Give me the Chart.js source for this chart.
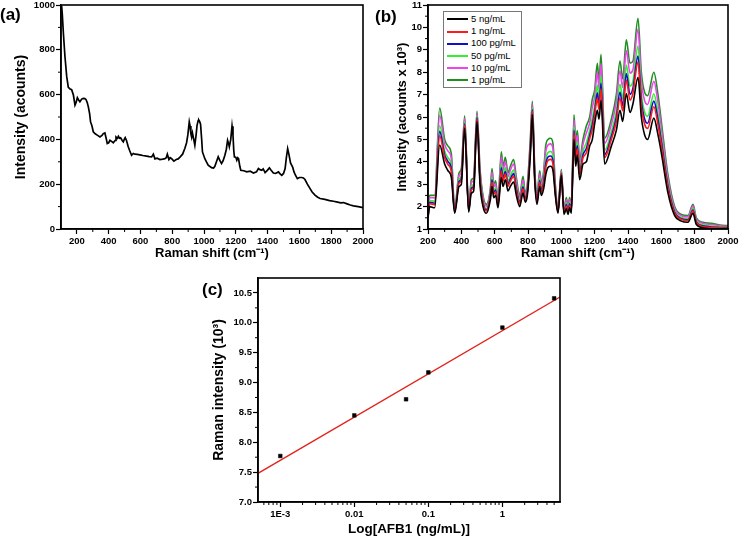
<!DOCTYPE html>
<html><head><meta charset="utf-8">
<script src="https://cdn.jsdelivr.net/npm/chart.js@4.4.1/dist/chart.umd.min.js"></script>
<style>
html,body{margin:0;padding:0;background:#fff;width:740px;height:536px;overflow:hidden;position:relative;font-family:"Liberation Sans",Arial,sans-serif}
canvas{position:absolute}
.plabel{position:absolute;font-weight:bold;font-size:17px;line-height:17px;color:#000}
#legendB{position:absolute;left:443px;top:11px;border:1px solid #777;background:#fff;padding:1px 5px 1px 3px;font-size:9.5px;color:#000}
.lrow{height:12.2px;line-height:12.2px;white-space:nowrap}
.lline{display:inline-block;width:21px;height:2px;vertical-align:middle;margin-right:3px}
</style></head><body>
<canvas id="ca" width="385" height="280" style="left:0;top:-10px"></canvas>
<canvas id="cb" width="380" height="280" style="left:370px;top:-10px"></canvas>
<canvas id="cc" width="400" height="272" style="left:180px;top:270px"></canvas>
<div class="plabel" style="left:0px;top:6px">(a)</div>
<div class="plabel" style="left:375px;top:8px">(b)</div>
<div class="plabel" style="left:202px;top:281px">(c)</div>
<div id="legendB"></div>
<script>
// ---------- Panel (a) data ----------
const shiftA = [104,108,115,125,136,146,157,167,178,188,195,203,212,219,230,240,250,257,265,272,280,286,295,303,315,328,345,358,366,376,384,391,400,408,420,429,440,446,455,461,468,475,485,492,498,504,512,523,533,544,555,565,580,596,615,638,655,670,681,691,705,722,740,754,762,769,779,787,796,810,825,837,850,865,879,890,898,907,912,917,922,927,935,942,950,956,963,967,972,978,985,990,1005,1015,1026,1047,1060,1068,1078,1089,1100,1110,1120,1131,1140,1148,1155,1159,1168,1176,1182,1187,1191,1200,1206,1212,1217,1225,1231,1250,1269,1290,1311,1330,1342,1352,1363,1372,1384,1398,1411,1422,1436,1450,1468,1480,1489,1500,1510,1518,1526,1532,1537,1544,1551,1558,1566,1575,1587,1600,1614,1625,1635,1650,1667,1680,1698,1715,1730,1760,1790,1814,1840,1860,1877,1900,1920,1940,1970,2000];
const countsA = [995,960,874,769,680,632,625,622,598,553,565,586,575,568,580,583,582,578,565,545,515,478,460,434,425,419,411,418,426,429,405,382,385,396,390,385,395,411,405,414,405,407,395,389,400,408,395,367,348,329,337,334,333,331,328,325,323,322,334,313,316,310,312,314,318,334,310,318,314,303,310,313,322,334,359,385,420,478,460,426,410,429,400,374,420,463,484,486,480,468,400,344,314,300,285,274,272,280,300,322,305,292,305,329,355,396,380,367,400,459,420,350,322,320,307,318,314,280,262,260,255,258,250,255,270,265,262,268,252,262,273,262,250,248,255,245,240,248,270,320,359,340,322,295,285,275,255,240,225,230,230,228,221,200,180,165,151,142,136,132,127,124,120,117,118,112,107,103,100,95];
const xTicksA = [200,400,600,800,1000,1200,1400,1600,1800,2000];
const yTicksA = [0,200,400,600,800,1000];

// ---------- Panel (b) data ----------
const shiftB = [200,210,240,270,300,320,340,360,386,400,420,444,460,474,494,512,530,550,574,584,594,606,620,640,650,664,680,694,714,730,750,770,784,796,814,826,840,854,870,880,894,906,920,936,950,964,980,1000,1016,1030,1040,1050,1060,1076,1086,1096,1110,1130,1150,1170,1186,1200,1216,1226,1238,1260,1300,1330,1352,1368,1390,1412,1430,1460,1480,1500,1518,1555,1580,1600,1640,1680,1720,1760,1790,1810,1850,1900,1950,2000];
const s5ng = [1.5,2.0,1.95,4.75,3.9,3.6,3.3,1.7,2.9,3.0,5.5,1.75,2.6,2.7,5.8,3.0,2.0,1.7,2.3,2.9,2.4,2.5,1.95,3.3,2.9,3.2,2.7,2.9,3.1,2.5,2.0,2.6,2.2,2.5,4.3,6.1,3.2,2.1,2.9,2.5,2.8,3.4,3.75,3.8,3.6,2.5,1.7,3.4,1.65,1.9,1.65,1.95,1.7,5.0,3.8,4.3,3.2,3.9,4.0,4.7,5.0,5.7,6.3,5.9,6.75,3.9,4.7,5.4,6.3,5.8,7.05,6.2,6.6,7.77,6.0,5.2,5.0,5.95,5.2,4.4,2.6,1.6,1.35,1.3,1.7,1.2,1.05,1.0,1.0,1.0];
const s1ng = [1.53,2.13,2.09,5.16,4.18,3.88,3.56,1.75,3.05,3.18,5.64,1.8,2.75,2.85,5.91,3.18,2.13,1.8,2.43,3.1,2.55,2.66,2.04,3.59,3.13,3.45,2.9,3.13,3.35,2.7,2.13,2.79,2.3,2.63,4.48,6.25,3.35,2.2,3.08,2.65,3.0,3.73,4.06,4.11,3.9,2.63,1.75,3.46,1.71,2.03,1.74,2.06,1.78,5.28,4.08,4.58,3.43,4.18,4.4,5.03,5.45,6.08,6.83,6.33,7.26,4.19,5.0,5.8,6.85,6.28,7.65,6.75,7.08,8.45,6.5,5.68,5.49,6.46,5.65,4.75,2.8,1.7,1.43,1.38,1.8,1.28,1.11,1.06,1.05,1.04];
const s100pg = [1.54,2.19,2.15,5.36,4.31,4.01,3.69,1.77,3.12,3.26,5.7,1.82,2.82,2.92,5.97,3.26,2.19,1.85,2.49,3.2,2.62,2.74,2.08,3.73,3.23,3.57,3.0,3.23,3.47,2.8,2.19,2.88,2.35,2.69,4.56,6.32,3.42,2.25,3.16,2.72,3.1,3.88,4.21,4.26,4.04,2.69,1.77,3.49,1.74,2.09,1.78,2.12,1.81,5.41,4.21,4.71,3.53,4.31,4.59,5.18,5.67,6.26,7.08,6.53,7.51,4.33,5.14,5.99,7.11,6.5,7.94,7.01,7.3,8.72,6.74,5.9,5.72,6.71,5.87,4.92,2.9,1.75,1.46,1.41,1.85,1.31,1.14,1.09,1.07,1.06];
const s50pg = [1.55,2.27,2.24,5.62,4.48,4.18,3.86,1.81,3.22,3.37,5.79,1.86,2.92,3.02,6.04,3.37,2.27,1.91,2.57,3.32,2.72,2.84,2.14,3.91,3.38,3.73,3.12,3.38,3.63,2.92,2.27,3.0,2.41,2.77,4.67,6.42,3.52,2.31,3.27,2.82,3.22,4.09,4.41,4.46,4.24,2.77,1.81,3.53,1.78,2.17,1.84,2.19,1.86,5.58,4.38,4.88,3.68,4.48,4.85,5.39,5.95,6.5,7.41,6.8,7.84,4.51,5.34,6.25,7.47,6.81,8.32,7.37,7.61,9.17,7.06,6.21,6.03,7.04,6.15,5.14,3.02,1.81,1.51,1.46,1.91,1.36,1.18,1.13,1.1,1.08];
const s10pg = [1.58,2.4,2.39,6.07,4.78,4.48,4.14,1.86,3.38,3.56,5.94,1.91,3.08,3.18,6.16,3.56,2.4,2.02,2.7,3.54,2.88,3.02,2.23,4.22,3.62,4.0,3.34,3.62,3.9,3.14,2.4,3.2,2.52,2.9,4.86,6.58,3.68,2.42,3.46,2.98,3.44,4.44,4.75,4.8,4.56,2.9,1.86,3.6,1.85,2.3,1.93,2.31,1.94,5.88,4.68,5.18,3.92,4.78,5.28,5.74,6.44,6.9,7.98,7.26,8.39,4.82,5.66,6.68,8.06,7.32,8.97,7.96,8.12,9.92,7.6,6.72,6.56,7.59,6.64,5.52,3.24,1.92,1.59,1.54,2.02,1.44,1.25,1.2,1.14,1.12];
const s1pg = [1.6,2.5,2.5,6.4,5.0,4.7,4.35,1.9,3.5,3.7,6.05,1.95,3.2,3.3,6.25,3.7,2.5,2.1,2.8,3.7,3.0,3.15,2.3,4.45,3.8,4.2,3.5,3.8,4.1,3.3,2.5,3.35,2.6,3.0,5.0,6.7,3.8,2.5,3.6,3.1,3.6,4.7,5.0,5.05,4.8,3.0,1.9,3.65,1.9,2.4,2.0,2.4,2.0,6.1,4.9,5.4,4.1,5.0,5.6,6.0,6.8,7.2,8.4,7.6,8.8,5.05,5.9,7.0,8.5,7.7,9.45,8.4,8.5,10.41,8.0,7.1,6.95,8.0,7.0,5.8,3.4,2.0,1.65,1.6,2.1,1.5,1.3,1.25,1.18,1.15];
const seriesNamesB = ['5 ng/mL','1 ng/mL','100 pg/mL','50 pg/mL','10 pg/mL','1 pg/mL'];
const seriesColorsB = ['#000000','#ff1a1a','#1010c8','#33ee33','#ee44ee','#1f8f1f'];

// ---------- Panel (c) data ----------
const concC = [0.001, 0.01, 0.05, 0.1, 1, 5];
const intensC = [7.77, 8.45, 8.72, 9.17, 9.92, 10.41];
const fitX = [0.0005, 6];
const fitY = [7.48, 10.43];
const decadeVals = [0.001, 0.01, 0.1, 1];
const decadeLabels = ['1E-3', '0.01', '0.1', '1'];

// ---------- helpers ----------
Chart.defaults.font.family = '"Liberation Sans", Arial, sans-serif';
Chart.defaults.color = '#000';
const tickFont = {size: 9.5, weight: 'bold'};
const titleFont = {size: 13, weight: 'bold'};

const frameAndMinor = {
  id: 'frameAndMinor',
  afterDatasetsDraw(chart, args, opts) {
    const ctx = chart.ctx, a = chart.chartArea;
    const sx = chart.scales.x, sy = chart.scales.y;
    ctx.save();
    ctx.strokeStyle = '#000';
    ctx.lineWidth = 1;
    ctx.beginPath();
    (opts.minorX || []).forEach(v => {
      const p = sx.getPixelForValue(v);
      if (p < a.left + 1 || p > a.right - 1) return;
      ctx.moveTo(p, a.bottom); ctx.lineTo(p, a.bottom + 3);
    });
    (opts.minorY || []).forEach(v => {
      const p = sy.getPixelForValue(v);
      if (p < a.top + 1 || p > a.bottom - 1) return;
      ctx.moveTo(a.left, p); ctx.lineTo(a.left - 3, p);
    });
    ctx.stroke();
    ctx.lineWidth = 1.6;
    ctx.strokeRect(a.left, a.top, a.right - a.left, a.bottom - a.top);
    ctx.restore();
  }
};

function gridOpts(extra) {
  return Object.assign({drawOnChartArea: false, drawTicks: true, tickLength: 5, tickColor: '#000', tickWidth: 1.2}, extra || {});
}
const borderOpts = {display: true, color: '#000', width: 1.6};
const plainLabel = v => String(v);

function range(a, b, step) { const out = []; for (let v = a; v <= b + 1e-9; v += step) out.push(+v.toFixed(4)); return out; }

// ---------- Chart (a) ----------
new Chart(document.getElementById('ca'), {
  type: 'line',
  data: {datasets: [{
    data: shiftA.map((x, i) => ({x, y: countsA[i]})),
    borderColor: '#000', borderWidth: 1.7, pointRadius: 0, tension: 0
  }]},
  options: {
    responsive: false, animation: false,
    layout: {padding: {left: 10, right: 22, top: 15, bottom: 3}},
    plugins: {legend: {display: false}, tooltip: {enabled: false},
      frameAndMinor: {minorX: range(300, 1900, 200), minorY: range(100, 900, 200)}},
    scales: {
      x: {type: 'linear', min: 100, max: 2000,
        afterBuildTicks: s => { s.ticks = xTicksA.map(v => ({value: v})); },
        ticks: {font: tickFont, color: '#000', padding: 2, autoSkip: false, maxRotation: 0, callback: plainLabel},
        grid: gridOpts(), border: borderOpts,
        title: {display: true, text: 'Raman shift (cm⁻¹)', font: titleFont, color: '#000', padding: {top: 0, bottom: 6}},
        afterFit: s => { s.height = 38; }},
      y: {type: 'linear', min: 0, max: 1000,
        afterBuildTicks: s => { s.ticks = yTicksA.map(v => ({value: v})); },
        ticks: {font: tickFont, color: '#000', padding: 1, autoSkip: false, callback: plainLabel},
        grid: gridOpts(), border: borderOpts,
        title: {display: true, text: 'Intensity (acounts)', font: {size: 14, weight: 'bold'}, color: '#000', padding: {top: 3, bottom: 0}},
        afterFit: s => { s.width = 51; }}
    }
  },
  plugins: [frameAndMinor]
});

// ---------- Chart (b) ----------
const seriesB = [s5ng, s1ng, s100pg, s50pg, s10pg, s1pg];
const chartB = new Chart(document.getElementById('cb'), {
  type: 'line',
  data: {datasets: seriesB.map((arr, k) => ({
    label: seriesNamesB[k],
    data: shiftB.map((x, i) => ({x, y: arr[i]})),
    borderColor: seriesColorsB[k], borderWidth: 1.6, pointRadius: 0,
    cubicInterpolationMode: 'monotone'
  }))},
  options: {
    responsive: false, animation: false,
    layout: {padding: {left: 21, right: 22, top: 15, bottom: 3}},
    plugins: {legend: {display: false}, tooltip: {enabled: false},
      frameAndMinor: {minorX: range(300, 1900, 200), minorY: range(1.5, 10.5, 1)}},
    scales: {
      x: {type: 'linear', min: 200, max: 2000,
        ticks: {stepSize: 200, font: tickFont, color: '#000', padding: 2, autoSkip: false, maxRotation: 0, callback: plainLabel},
        grid: gridOpts(), border: borderOpts,
        title: {display: true, text: 'Raman shift (cm⁻¹)', font: titleFont, color: '#000', padding: {top: 0, bottom: 6}},
        afterFit: s => { s.height = 38; }},
      y: {type: 'linear', min: 1, max: 11,
        ticks: {stepSize: 1, font: tickFont, color: '#000', padding: 1, autoSkip: false, callback: plainLabel},
        grid: gridOpts(), border: borderOpts,
        title: {display: true, text: 'Intensity (acounts x 10³)', font: titleFont, color: '#000', padding: {top: 4, bottom: 0}},
        afterFit: s => { s.width = 37; }}
    }
  },
  plugins: [frameAndMinor]
});

// HTML legend for (b), built from the chart's datasets
(function () {
  const box = document.getElementById('legendB');
  chartB.data.datasets.forEach(ds => {
    const row = document.createElement('div');
    row.className = 'lrow';
    const ln = document.createElement('span');
    ln.className = 'lline';
    ln.style.background = ds.borderColor;
    row.appendChild(ln);
    row.appendChild(document.createTextNode(ds.label));
    box.appendChild(row);
  });
})();

// ---------- Chart (c) ----------
const minorLogX = [];
for (let e = -4; e <= 0; e++) for (let m = 2; m <= 9; m++) {
  const v = m * Math.pow(10, e);
  if (v > 0.0005 && v < 6) minorLogX.push(v);
}
new Chart(document.getElementById('cc'), {
  type: 'scatter',
  data: {datasets: [
    {data: concC.map((x, i) => ({x, y: intensC[i]})), pointStyle: 'rect', pointRadius: 2.6,
     backgroundColor: '#000', borderColor: '#000', borderWidth: 0.5, showLine: false},
    {data: fitX.map((x, i) => ({x, y: fitY[i]})), showLine: true, pointRadius: 0,
     borderColor: '#e3231d', borderWidth: 1.3}
  ]},
  options: {
    responsive: false, animation: false,
    layout: {padding: {left: 27, right: 20, top: 8, bottom: 0}},
    plugins: {legend: {display: false}, tooltip: {enabled: false},
      frameAndMinor: {minorX: minorLogX, minorY: range(7.25, 10.75, 0.5)}},
    scales: {
      x: {type: 'logarithmic', min: 0.0005, max: 6,
        afterBuildTicks: s => { s.ticks = decadeVals.map(v => ({value: v})); },
        ticks: {font: tickFont, color: '#000', padding: 2, autoSkip: false, maxRotation: 0,
          callback: v => { const i = decadeVals.findIndex(d => Math.abs(d - v) / d < 1e-6); return i >= 0 ? decadeLabels[i] : ''; }},
        grid: gridOpts(), border: borderOpts,
        title: {display: true, text: 'Log[AFB1 (ng/mL)]', font: {size: 13.5, weight: 'bold'}, color: '#000', padding: {top: 0, bottom: 5}},
        afterFit: s => { s.height = 40; }},
      y: {type: 'linear', min: 7, max: 10.75,
        ticks: {stepSize: 0.5, includeBounds: false, font: tickFont, color: '#000', padding: 1, autoSkip: false, callback: v => Number(v).toFixed(1)},
        grid: gridOpts(), border: borderOpts,
        title: {display: true, text: 'Raman intensity (10³)', font: {size: 14, weight: 'bold'}, color: '#000', padding: {top: 4, bottom: 0}},
        afterFit: s => { s.width = 51; }}
    }
  },
  plugins: [frameAndMinor]
});
</script>
</body></html>
